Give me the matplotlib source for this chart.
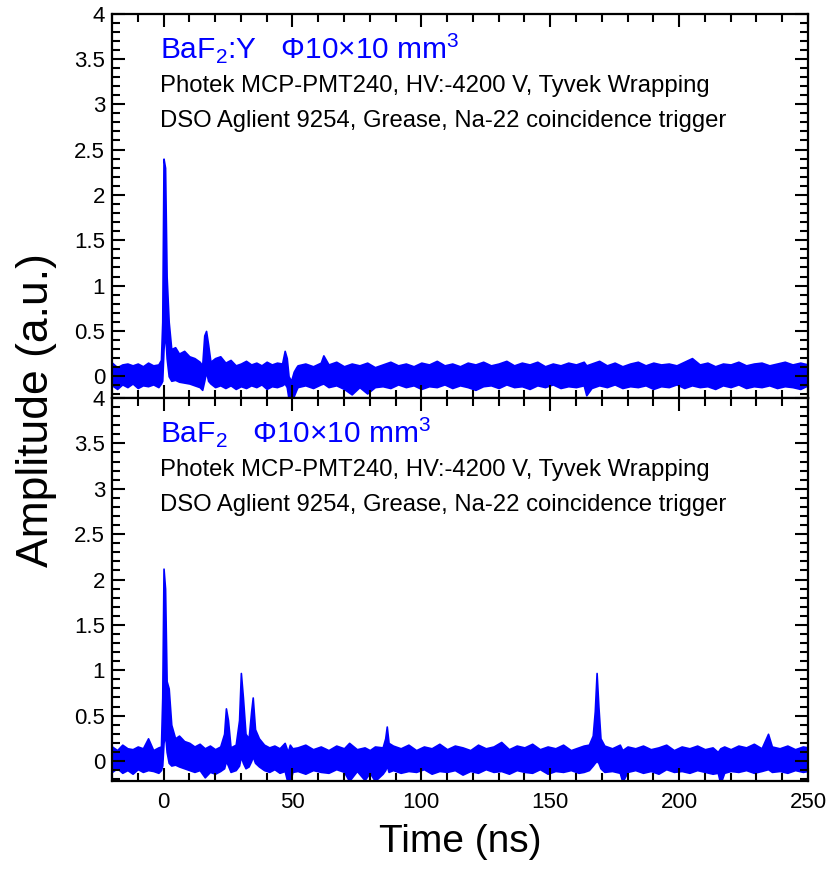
import numpy as np
import matplotlib
matplotlib.use("Agg")
import matplotlib.pyplot as plt
from matplotlib.ticker import MultipleLocator, FormatStrFormatter

plt.rcParams['font.family'] = ['Liberation Sans', 'DejaVu Sans']
plt.rcParams['mathtext.fontset'] = 'custom'
plt.rcParams['mathtext.rm'] = 'Liberation Sans'
plt.rcParams['mathtext.it'] = 'Liberation Sans:italic'

BLUE = '#0000ff'

# BaF2:Y waveform, upper / lower envelope of the scope trace (ns, a.u.)
t_top = [-20, -18, -16, -14, -12, -10, -8, -6, -4, -2, -1, -0.5, 0, 0.6, 1.2, 2.0, 3.0,
         4.5, 6, 8, 10, 12, 14, 15, 15.8, 16.5, 17.3, 18.2, 20, 22, 24, 26, 28, 30,
         32, 34, 36, 38, 40, 42, 44, 46, 47, 47.8, 48.5, 49.5, 50.5, 51.5,
         52, 55, 58, 61, 62, 64, 67, 70, 73, 76, 79, 82, 85, 88, 91, 94, 97, 100,
         103, 106, 109, 112, 115, 118, 121, 124, 127, 130, 133, 136, 139, 142, 145,
         148, 151, 154, 157, 160, 163, 164, 166, 169, 172, 175, 178, 181, 184, 187,
         190, 193, 196, 199, 202, 205, 208, 211, 214, 217, 220, 223, 226, 229, 232,
         235, 238, 241, 244, 247, 250]
hi_top = [0.15, 0.10, 0.13, 0.14, 0.12, 0.14, 0.11, 0.15, 0.12, 0.13, 0.18, 0.60, 2.40,
          2.30, 1.10, 0.60, 0.30, 0.32, 0.25, 0.28, 0.22, 0.20, 0.16, 0.12, 0.45, 0.50,
          0.35, 0.16, 0.20, 0.22, 0.15, 0.18, 0.12, 0.14, 0.17, 0.13, 0.15, 0.12, 0.16,
          0.13, 0.15, 0.14, 0.28, 0.20, 0.00, -0.05, 0.05, 0.10,
          0.12, 0.14, 0.11, 0.15, 0.23, 0.13, 0.16, 0.11, 0.14, 0.12, 0.15, 0.10, 0.13,
          0.16, 0.12, 0.14, 0.11, 0.15, 0.13, 0.17, 0.12, 0.14, 0.11, 0.15, 0.13, 0.16,
          0.12, 0.14, 0.17, 0.12, 0.15, 0.13, 0.16, 0.11, 0.14, 0.12, 0.15, 0.13, 0.16,
          0.12, 0.14, 0.17, 0.12, 0.15, 0.11, 0.14, 0.16, 0.12, 0.15, 0.13, 0.14, 0.12,
          0.16, 0.20, 0.13, 0.15, 0.11, 0.14, 0.13, 0.16, 0.12, 0.14, 0.15, 0.12, 0.14,
          0.16, 0.13, 0.15, 0.13]
lo_top = [-0.10, -0.14, -0.09, -0.12, -0.08, -0.13, -0.10, -0.11, -0.09, -0.12, -0.08,
          -0.05, 0.30, 0.50, 0.20, 0.00, -0.05, -0.04, -0.06, -0.07, -0.08, -0.10, -0.12,
          -0.15, -0.05, 0.05, -0.05, -0.08, -0.12, -0.10, -0.13, -0.10, -0.14, -0.11,
          -0.13, -0.10, -0.12, -0.09, -0.14, -0.11, -0.12, -0.10, -0.08, -0.12, -0.25,
          -0.25, -0.22, -0.15,
          -0.12, -0.10, -0.13, -0.09, -0.08, -0.12, -0.10, -0.14, -0.20, -0.12, -0.19,
          -0.12, -0.11, -0.13, -0.09, -0.12, -0.10, -0.14, -0.11, -0.12, -0.09, -0.13,
          -0.10, -0.12, -0.15, -0.11, -0.10, -0.13, -0.09, -0.12, -0.11, -0.14, -0.10,
          -0.12, -0.09, -0.13, -0.11, -0.12, -0.10, -0.21, -0.13, -0.10, -0.12, -0.09,
          -0.13, -0.11, -0.12, -0.10, -0.14, -0.11, -0.12, -0.09, -0.13, -0.10, -0.12,
          -0.11, -0.14, -0.10, -0.12, -0.09, -0.13, -0.11, -0.12, -0.10, -0.13, -0.11,
          -0.12, -0.14, -0.10]

# undoped BaF2 waveform
t_bot = [-20, -18, -16, -14, -12, -10, -8, -6, -4, -2, -1, -0.5, 0, 0.6, 1.2, 2.0, 3.0,
         4.5, 6, 8, 10, 12, 14, 16, 18, 20, 22, 23.5, 24.2, 25, 26, 28, 29.3, 30, 30.8,
         31.8, 33, 34, 34.6, 35.5, 37, 39, 41, 43, 45, 47, 48.2, 49, 50,
         52, 55, 58, 61, 64, 67, 70, 72, 75, 78, 80, 82, 85, 86, 86.6, 87.3, 89, 92,
         95, 98, 101, 104, 107, 110, 113, 116, 119, 122, 125, 128, 131, 134, 137, 140,
         143, 146, 149, 152, 155, 158, 161, 163, 165, 166.5, 167.3, 168, 168.7, 169.5,
         171, 174, 177, 178, 180, 183, 186, 189, 192, 195, 198, 201, 204, 207, 210, 213,
         215, 216, 217.5, 220, 223, 226, 229, 232, 234.5, 236, 239, 242, 245, 248, 250]
hi_bot = [0.16, 0.12, 0.18, 0.14, 0.13, 0.16, 0.14, 0.25, 0.12, 0.15, 0.16, 0.70, 2.12,
          1.90, 0.88, 0.80, 0.40, 0.25, 0.28, 0.22, 0.20, 0.16, 0.19, 0.14, 0.17, 0.13,
          0.16, 0.30, 0.58, 0.45, 0.15, 0.18, 0.45, 0.97, 0.70, 0.30, 0.25, 0.55, 0.70,
          0.35, 0.25, 0.18, 0.15, 0.17, 0.14, 0.20, 0.10, 0.18, 0.14,
          0.15, 0.18, 0.13, 0.16, 0.12, 0.17, 0.14, 0.20, 0.13, 0.15, 0.12, 0.16, 0.15,
          0.25, 0.38, 0.20, 0.17, 0.14, 0.18, 0.12, 0.16, 0.14, 0.19, 0.13, 0.17, 0.15,
          0.12, 0.18, 0.14, 0.16, 0.21, 0.13, 0.17, 0.15, 0.19, 0.13, 0.16, 0.14, 0.18,
          0.12, 0.15, 0.17, 0.18, 0.28, 0.55, 0.97, 0.60, 0.25, 0.17, 0.14, 0.18, 0.12,
          0.16, 0.14, 0.17, 0.13, 0.15, 0.18, 0.12, 0.16, 0.14, 0.17, 0.13, 0.15, 0.10,
          0.14, 0.16, 0.13, 0.17, 0.15, 0.19, 0.14, 0.30, 0.16, 0.14, 0.17, 0.13, 0.16,
          0.15]
lo_bot = [-0.12, -0.08, -0.13, -0.10, -0.14, -0.09, -0.12, -0.10, -0.11, -0.13, -0.10,
          -0.05, 0.20, 0.30, 0.10, -0.02, -0.05, -0.04, -0.06, -0.08, -0.10, -0.12,
          -0.10, -0.18, -0.12, -0.14, -0.11, -0.08, 0.00, -0.05, -0.12, -0.10, -0.05,
          0.05, -0.02, -0.08, -0.06, 0.00, 0.05, -0.02, -0.06, -0.10, -0.12, -0.09,
          -0.13, -0.11, -0.25, -0.25, -0.12,
          -0.11, -0.14, -0.10, -0.12, -0.13, -0.09, -0.12, -0.22, -0.11, -0.21, -0.13,
          -0.22, -0.14, -0.10, -0.05, -0.12, -0.10, -0.13, -0.11, -0.12, -0.09, -0.14,
          -0.11, -0.12, -0.10, -0.15, -0.11, -0.13, -0.09, -0.12, -0.11, -0.14, -0.10,
          -0.12, -0.13, -0.09, -0.14, -0.11, -0.12, -0.10, -0.13, -0.12, -0.10,
          -0.05, -0.02, 0.00, -0.02, -0.08, -0.12, -0.11, -0.13, -0.23,
          -0.12, -0.10, -0.13, -0.11, -0.14, -0.09, -0.12, -0.11, -0.13, -0.10, -0.12,
          -0.14, -0.13,
          -0.25, -0.13, -0.11, -0.12, -0.10, -0.13, -0.11, -0.09, -0.12, -0.11, -0.13,
          -0.10, -0.12, -0.11]

panels = [
    (t_top, lo_top, hi_top, (-0.24, 4), 'BaF$_2$:Y   \u03a610\u00d710 mm$^3$'),
    (t_bot, lo_bot, hi_bot, (-0.22, 4), 'BaF$_2$   \u03a610\u00d710 mm$^3$'),
]
info = ['Photek MCP-PMT240, HV:-4200 V, Tyvek Wrapping',
        'DSO Aglient 9254, Grease, Na-22 coincidence trigger']

fig = plt.figure(figsize=(8.27, 8.69), dpi=100)
ax_top = fig.add_axes([0.1354, 0.542, 0.8416, 0.4424])
ax_bot = fig.add_axes([0.1354, 0.1013, 0.8416, 0.4407])

for ax, (t, lo, hi, ylim, title) in zip([ax_top, ax_bot], panels):
    ax.fill_between(t, lo, hi, color=BLUE, lw=1.2, edgecolor=BLUE)
    ax.set_xlim(-20, 250)
    ax.set_ylim(*ylim)
    ax.xaxis.set_major_locator(MultipleLocator(50))
    ax.xaxis.set_minor_locator(MultipleLocator(10))
    ax.yaxis.set_major_locator(MultipleLocator(0.5))
    ax.yaxis.set_minor_locator(MultipleLocator(0.1))
    ax.yaxis.set_major_formatter(FormatStrFormatter('%g'))
    ax.tick_params(which='both', direction='in', top=True, right=True,
                   width=1.5, labelsize=16)
    ax.tick_params(which='major', length=9.5)
    ax.tick_params(which='minor', length=5.5)
    ax.tick_params(axis='x', pad=8)
    ax.tick_params(axis='y', pad=5)
    for s in ax.spines.values():
        s.set_linewidth(1.6)

    ax.text(0.069, 0.884, title, transform=ax.transAxes, color=BLUE,
            fontsize=21.5, va='baseline', ha='left')
    ax.text(0.069, 0.796, info[0], transform=ax.transAxes, fontsize=17.2,
            va='baseline', ha='left')
    ax.text(0.069, 0.704, info[1], transform=ax.transAxes, fontsize=17.2,
            va='baseline', ha='left')

ax_top.tick_params(axis='x', labelbottom=False)

ax_bot.set_xlabel('Time (ns)', fontsize=28, labelpad=8)
fig.text(0.0447, 1 - 410 / 869, 'Amplitude (a.u.)', rotation=90,
         fontsize=32, ha='center', va='center')

fig.savefig('out.png', dpi=100)
